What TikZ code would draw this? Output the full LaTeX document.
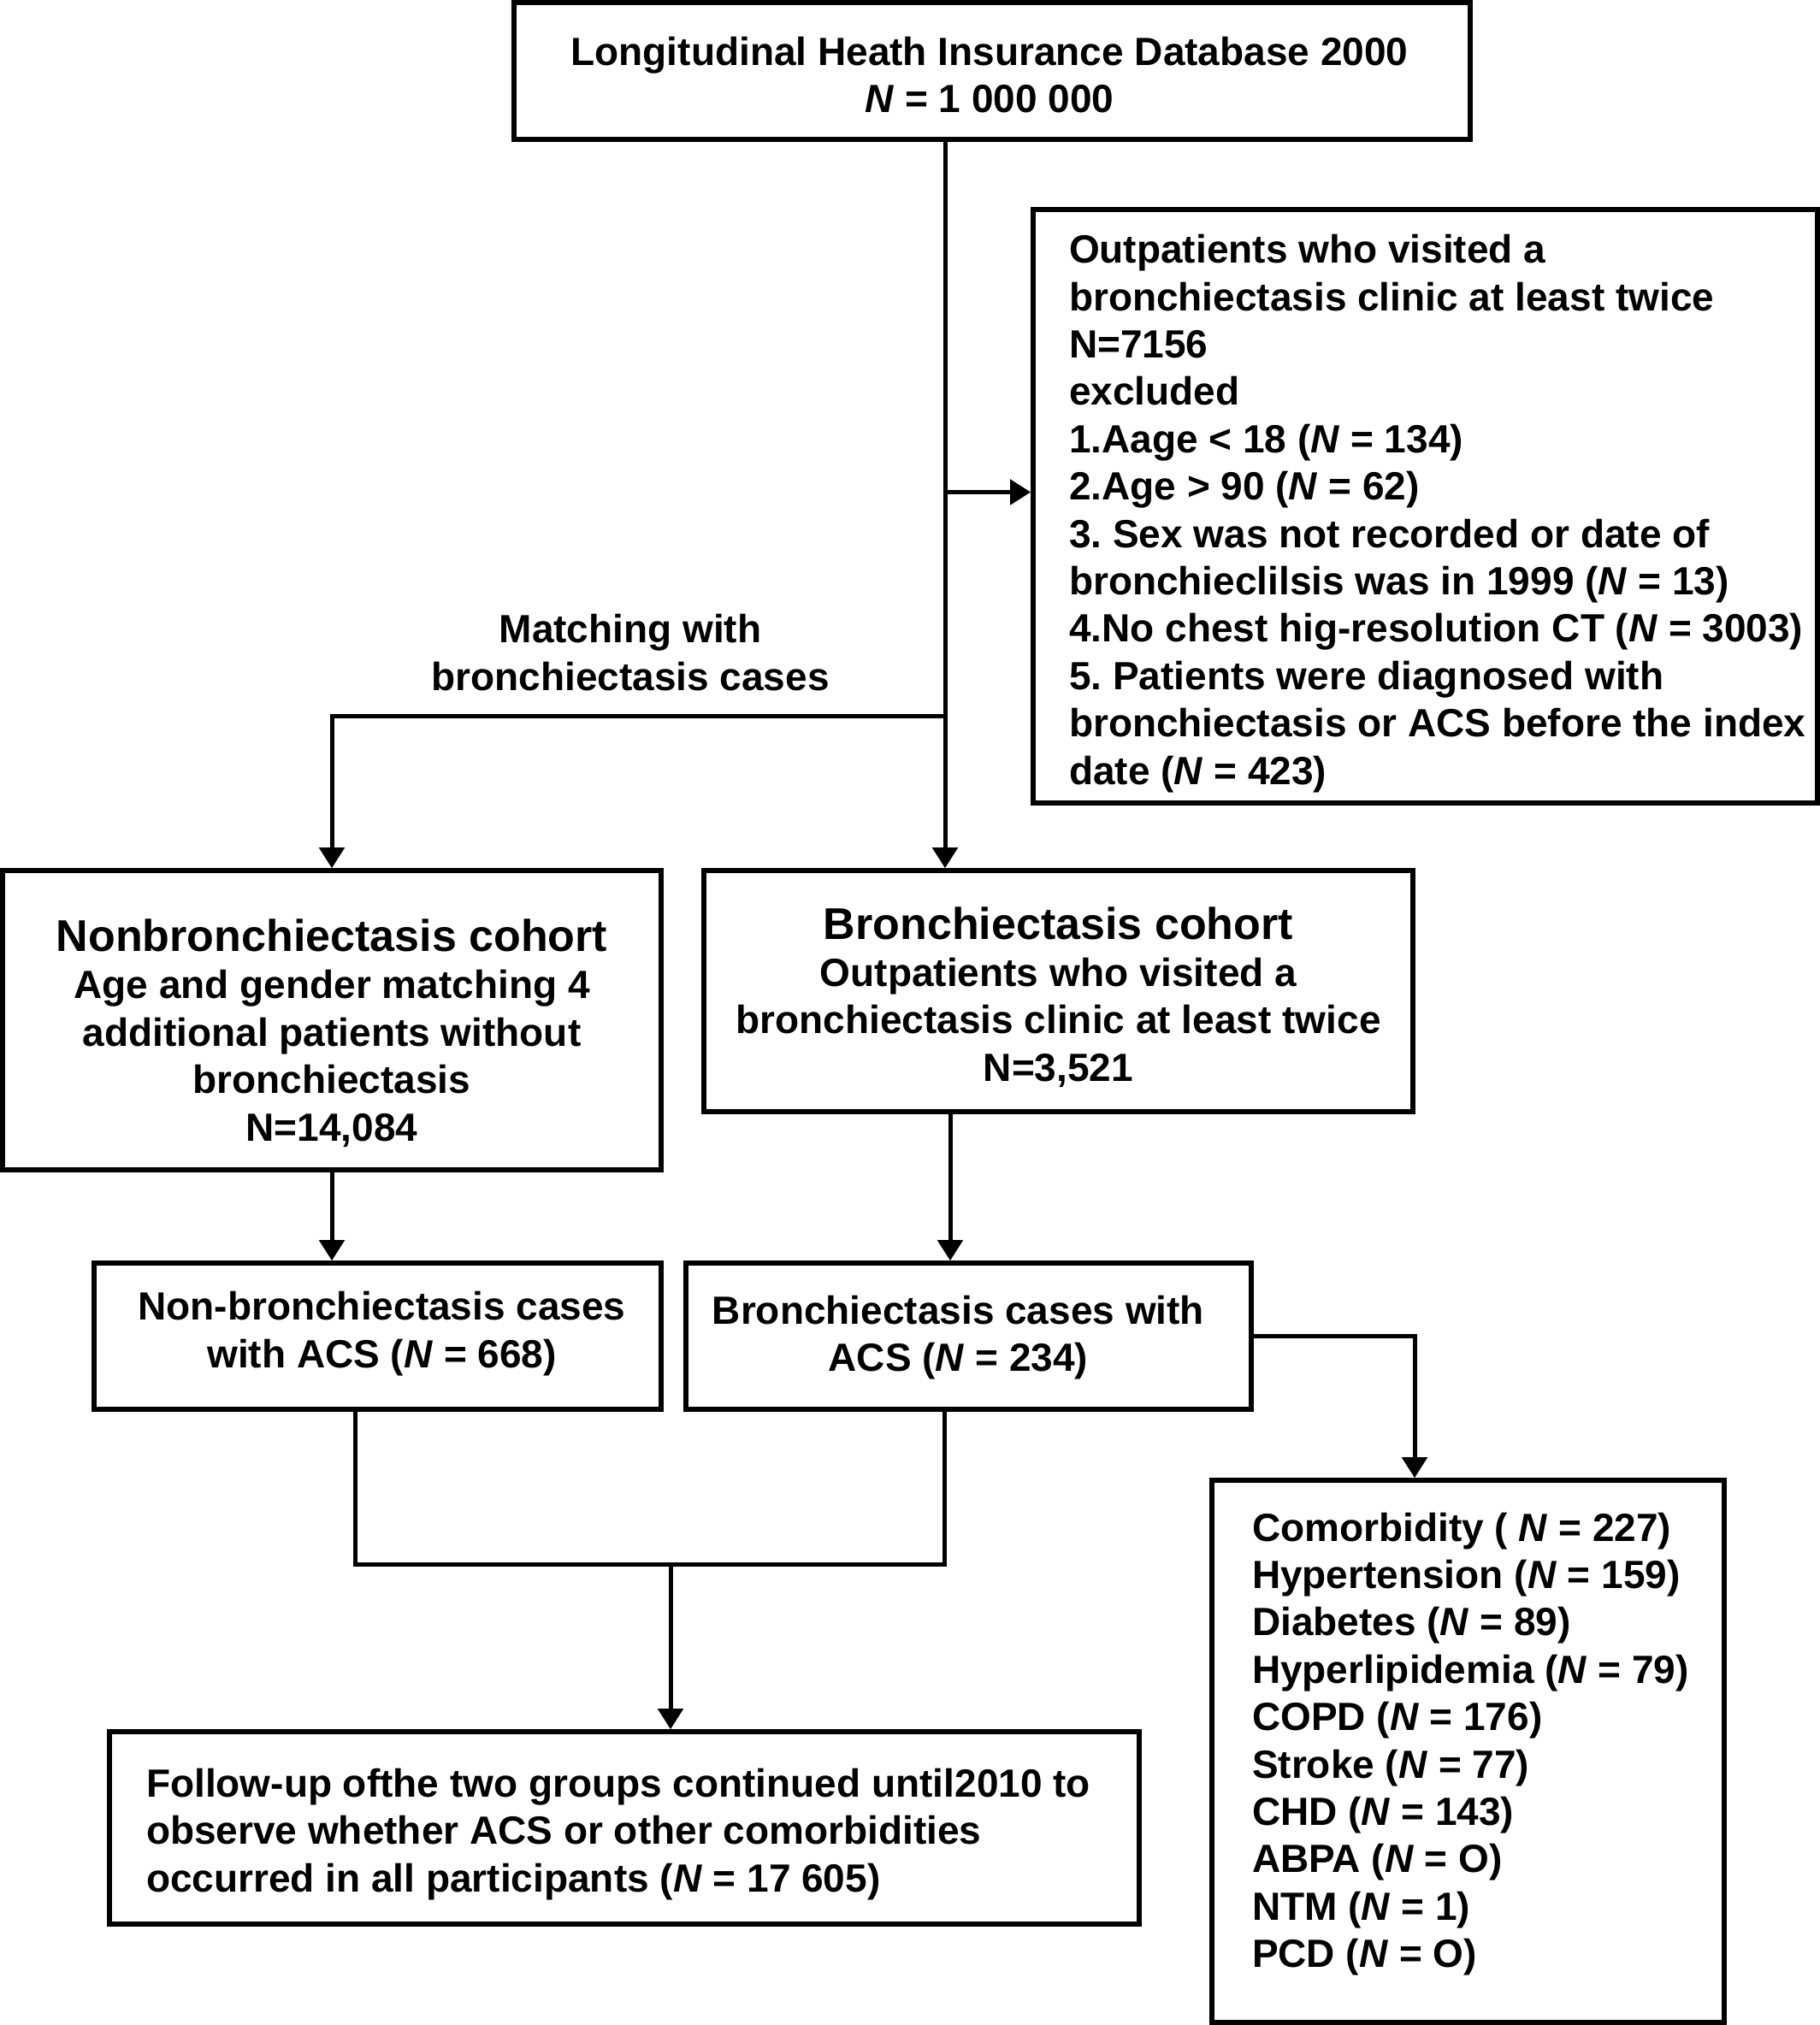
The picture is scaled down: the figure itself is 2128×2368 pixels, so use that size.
\documentclass[tikz,border=0pt]{standalone}
\usepackage{fontspec}
\setmainfont{Liberation Sans}
\usetikzlibrary{arrows.meta,calc}
\begin{document}
\frenchspacing
\begin{tikzpicture}[x=0.5pt,y=-0.5pt,
  txt/.style={font=\bfseries\fontsize{23}{27.7}\selectfont, inner sep=0pt, outer sep=0pt},
  box/.style={draw, line width=2.75pt, inner sep=0pt, outer sep=0pt},
  conn/.style={line width=2.5pt},
  arr/.style={conn, -{Triangle[length=12pt,width=14.5pt]}, shorten >=1.4pt},
  ]
\useasboundingbox (0,0) rectangle (2128,2368);

% boxes
\node[box, minimum width=559pt, minimum height=80pt] (top) at (1160,83) {};
\node[box, minimum width=458.5pt, minimum height=347pt] (excl) at (1666.5,592) {};
\node[box, minimum width=385pt, minimum height=175pt] (nonb) at (388,1193) {};
\node[box, minimum width=414.5pt, minimum height=141pt] (bron) at (1237.5,1159) {};
\node[box, minimum width=331.5pt, minimum height=85.5pt] (nacs) at (441.5,1562.5) {};
\node[box, minimum width=330.5pt, minimum height=85.5pt] (bacs) at (1132.5,1562.5) {};
\node[box, minimum width=299.5pt, minimum height=317pt] (como) at (1716.5,2048) {};
\node[box, minimum width=602pt, minimum height=112.5pt] (fol) at (730,2137.5) {};

% centred texts
\node[txt, align=center] (toptxt) at ($(top.center)+(-3,4.5)$)
  {Longitudinal Heath Insurance Database 2000\\\textit{N} = 1 000 000};
\node[txt, align=center] (nonbtxt) at ($(nonb.center)+(0,15)$)
  {{\fontsize{26}{29}\selectfont Nonbronchiectasis cohort}\\
   Age and gender matching 4\\additional patients without\\bronchiectasis\\N=14,084};
\node[txt, align=center] (brontxt) at ($(bron.center)+(0,7)$)
  {{\fontsize{26}{29}\selectfont Bronchiectasis cohort}\\
   Outpatients who visited a\\bronchiectasis clinic at least twice\\N=3,521};
\node[txt, align=center] (nacstxt) at ($(nacs.center)+(5,-3)$)
  {Non-bronchiectasis cases\\with ACS (\textit{N} = 668)};
\node[txt, align=center] (bacstxt) at ($(bacs.center)+(-12,1.5)$)
  {Bronchiectasis cases with\\ACS (\textit{N} = 234)};

% left-aligned texts
\node[txt, align=left, anchor=west] (excltxt) at ($(excl.west)+(42,8.5)$)
  {Outpatients who visited a\\
   bronchiectasis clinic at least twice\\
   N=7156\\
   excluded\\
   1.Aage {<} 18 (\textit{N} = 134)\\
   2.Age {>} 90 (\textit{N} = 62)\\
   3. Sex was not recorded or date of\\
   bronchieclilsis was in 1999 (\textit{N} = 13)\\
   4.No chest hig-resolution CT (\textit{N} = 3003)\\
   5. Patients were diagnosed with\\
   bronchiectasis or ACS before the index\\
   date (\textit{N} = 423)};
\node[txt, align=left, anchor=west] (comotxt) at ($(como.west)+(47,-8.5)$)
  {Comorbidity ( \textit{N} = 227)\\
   Hypertension (\textit{N} = 159)\\
   Diabetes (\textit{N} = 89)\\
   Hyperlipidemia (\textit{N} = 79)\\
   COPD (\textit{N} = 176)\\
   Stroke (\textit{N} = 77)\\
   CHD (\textit{N} = 143)\\
   ABPA (\textit{N} = O)\\
   NTM (\textit{N} = 1)\\
   PCD (\textit{N} = O)};
\node[txt, align=left, anchor=west] (foltxt) at ($(fol.west)+(43,7.5)$)
  {Follow-up ofthe two groups continued until2010 to\\
   observe whether ACS or other comorbidities\\
   occurred in all participants (\textit{N} = 17 605)};

\node[txt, align=center] (match) at (737,763) {Matching with\\bronchiectasis cases};

% connectors
\coordinate (tx) at (1105,0);
\coordinate (jr) at (1105,575.5);
\coordinate (jl) at (1105,837);
\coordinate (bx) at (1111,0);
\coordinate (cx) at (1654,0);
\coordinate (m1) at (415,1829);
\coordinate (m2) at (1104,1829);
\coordinate (m3) at (784,1829);

\draw[arr] (tx |- top.south) -- (tx |- bron.north);
\draw[arr] (jr) -- (jr -| excl.west);
\draw[arr] (jl) -| (nonb.north);
\draw[arr] (nonb.south) -- (nonb.south |- nacs.north);
\draw[arr] (bx |- bron.south) -- (bx |- bacs.north);
\draw[arr] (bacs.east) -| (cx |- como.north);
\draw[conn] (m1 |- nacs.south) -- (m1) -- (m2) -- (m2 |- bacs.south);
\draw[arr] (m3) -- (m3 |- fol.north);
\end{tikzpicture}
\end{document}
